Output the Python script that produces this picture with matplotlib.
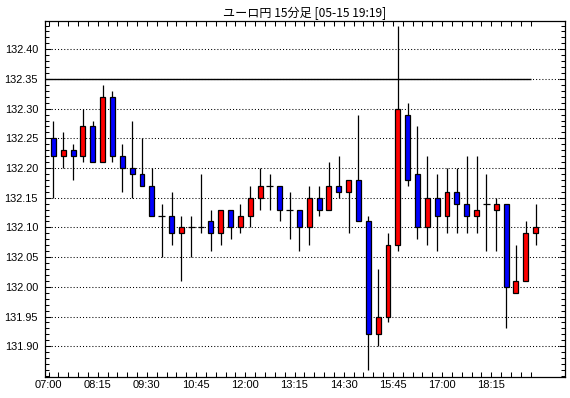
import matplotlib
matplotlib.use("Agg")
import matplotlib.pyplot as plt
from matplotlib.ticker import FixedLocator, FixedFormatter
import numpy as np

title = "ユーロ円 15分足 [05-15 19:19]"

opens = [132.25, 132.22, 132.23, 132.22, 132.27, 132.21, 132.32, 132.22, 132.20, 132.19,
         132.17, 132.12, 132.12, 132.09, 132.10, 132.10, 132.11, 132.09, 132.13, 132.10,
         132.12, 132.15, 132.17, 132.17, 132.13, 132.13, 132.10, 132.15, 132.13, 132.17,
         132.16, 132.18, 132.11, 131.92, 131.95, 132.07, 132.29, 132.19, 132.10, 132.15,
         132.12, 132.16, 132.14, 132.12, 132.14, 132.13, 132.14, 131.99, 132.01, 132.09]
highs = [132.28, 132.26, 132.24, 132.30, 132.28, 132.34, 132.33, 132.24, 132.28, 132.25,
         132.20, 132.14, 132.16, 132.12, 132.12, 132.19, 132.13, 132.13, 132.13, 132.14,
         132.17, 132.20, 132.19, 132.17, 132.16, 132.13, 132.17, 132.17, 132.21, 132.22,
         132.18, 132.29, 132.12, 132.03, 132.09, 132.44, 132.31, 132.27, 132.22, 132.19,
         132.20, 132.20, 132.22, 132.22, 132.19, 132.15, 132.14, 132.07, 132.11, 132.14]
lows = [132.15, 132.20, 132.18, 132.21, 132.21, 132.21, 132.21, 132.16, 132.15, 132.17,
        132.12, 132.05, 132.07, 132.01, 132.05, 132.09, 132.06, 132.07, 132.08, 132.09,
        132.10, 132.13, 132.13, 132.11, 132.08, 132.06, 132.07, 132.12, 132.13, 132.15,
        132.09, 132.11, 131.86, 131.90, 131.94, 132.06, 132.17, 132.08, 132.07, 132.06,
        132.09, 132.09, 132.09, 132.09, 132.06, 132.06, 131.93, 131.99, 132.01, 132.07]
closes = [132.22, 132.23, 132.22, 132.27, 132.21, 132.32, 132.22, 132.20, 132.19, 132.17,
          132.12, 132.12, 132.09, 132.10, 132.10, 132.10, 132.09, 132.13, 132.10, 132.12,
          132.15, 132.17, 132.17, 132.13, 132.13, 132.10, 132.15, 132.13, 132.17, 132.16,
          132.18, 132.11, 131.92, 131.95, 132.07, 132.30, 132.18, 132.10, 132.15, 132.12,
          132.16, 132.14, 132.12, 132.13, 132.14, 132.14, 132.00, 132.01, 132.09, 132.10]
time_labels = ["07:00", "08:15", "09:30", "10:45", "12:00", "13:15", "14:30", "15:45", "17:00", "18:15"]
y_ticks = [131.90, 131.95, 132.00, 132.05, 132.10, 132.15, 132.20, 132.25, 132.30, 132.35, 132.40]
ref_level = 132.35

W, H = 570, 398
fig = plt.figure(figsize=(W / 100, H / 100), dpi=100)
fig.patch.set_facecolor("white")
L, R, T, B = 45, 565, 21, 376.5
ax = fig.add_axes([L / W, 1 - B / H, (R - L) / W, (B - T) / H])

n = len(opens)
x = np.arange(n)
o = np.array(opens); c = np.array(closes); h = np.array(highs); l = np.array(lows)

ax.set_xlim(-0.856, 51.99)
ax.set_ylim(131.849, 132.4476)

# grid
for yv in y_ticks:
    ax.axhline(yv, color="black", lw=0.75, linestyle=(0, (1, 2)), zorder=1)
ax.hlines(ref_level, -0.856, 48.5, color="black", lw=1.0, zorder=2)

# wicks
ax.vlines(x, l, h, color="black", lw=0.9, zorder=3)
# bodies
colors = ["red" if ci > oi else "blue" for oi, ci in zip(o, c)]
nz = c != o
ax.bar(x[nz], (c - o)[nz], bottom=o[nz], width=0.5, color=np.array(colors)[nz],
       edgecolor="black", linewidth=0.9, zorder=4)
ax.hlines(o[~nz], x[~nz] - 0.35, x[~nz] + 0.35, color="black", lw=0.9, zorder=4)

# ticks
xmaj = [-0.5 + 5 * k for k in range(len(time_labels))]
xmin = [-0.5 + j for j in range(n)]
ax.xaxis.set_major_locator(FixedLocator(xmaj))
ax.xaxis.set_major_formatter(FixedFormatter(time_labels))
ax.xaxis.set_minor_locator(FixedLocator(xmin))
ax.yaxis.set_major_locator(FixedLocator(y_ticks))
ax.yaxis.set_major_formatter(FixedFormatter([f"{v:.2f}" for v in y_ticks]))
ax.yaxis.set_minor_locator(FixedLocator([round(131.85 + 0.01 * k, 2) for k in range(60)]))

ax.tick_params(axis="x", which="both", direction="in", top=True, bottom=True,
               length=3.8, width=0.75, labelsize=8, pad=2.5)
ax.tick_params(axis="y", which="major", direction="in", left=True, right=True,
               length=4.3, width=0.75, labelsize=7.8, pad=5)
ax.tick_params(axis="y", which="minor", direction="in", left=True, right=True,
               length=2.6, width=0.75)
for lab in ax.get_xticklabels() + ax.get_yticklabels():
    lab.set_fontfamily("Liberation Sans")

for s in ax.spines.values():
    s.set_linewidth(0.9)
    s.set_color("black")

fig.text(305 / W, 1 - 13.5 / H, title, ha="center", va="center", fontsize=8.7,
         family=["Noto Sans CJK JP", "DejaVu Sans"])

fig.savefig("out.png", dpi=100, facecolor="white")
